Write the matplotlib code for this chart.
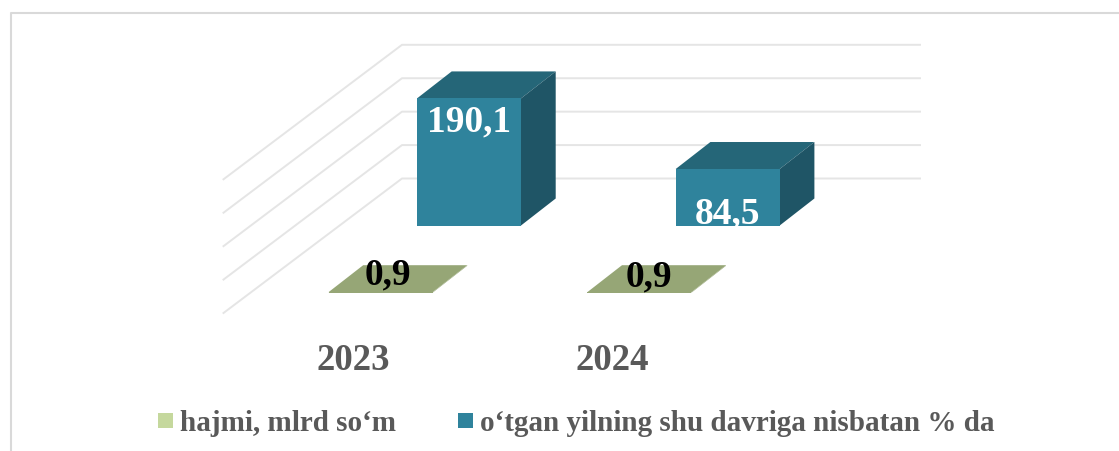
#!/usr/bin/python3

import matplotlib
matplotlib.use('Agg')
import matplotlib.pyplot as plt
from matplotlib.patches import Polygon, Rectangle

plt.rcParams['font.family'] = ['Liberation Serif', 'DejaVu Sans']
plt.rcParams['font.weight'] = 'bold'

years = ['2023', '2024']
hajmi = [0.9, 0.9]
foiz = [190.1, 84.5]
hajmi_labels = ['0,9', '0,9']
foiz_labels = ['190,1', '84,5']
grid_values = [0, 50, 100, 150, 200]
legend_names = ['hajmi, mlrd so‘m', 'o‘tgan yilning shu davriga nisbatan % da']

GRAY = '#595959'
GRID = '#e5e5e5'
BORDER = '#d9d9d9'

# one unit of value in pixels, the back wall floor line
PX_PER_UNIT = 0.6685
WALL_FLOOR = 179.0

fig = plt.figure(figsize=(11.19, 4.52), dpi=100)
ax = fig.add_axes([0, 0, 1, 1])
ax.set_xlim(0, 1119)
ax.set_ylim(451.5, -0.5)
ax.axis('off')

# chart frame, only top and left show in the crop
ax.plot([10.5, 10.5, 1119], [452, 13.5, 13.5], color=BORDER, lw=1.5, zorder=1)


def box(x0, floor, value, width, dx, dy, front, top, side):
    h = value * PX_PER_UNIT
    ax.add_patch(Polygon([(x0, floor - h), (x0 + dx, floor - h - dy),
                          (x0 + width + dx, floor - h - dy), (x0 + width, floor - h)],
                         fc=top, ec='none', zorder=4))
    ax.add_patch(Polygon([(x0 + width, floor), (x0 + width + dx, floor - dy),
                          (x0 + width + dx, floor - h - dy), (x0 + width, floor - h)],
                         fc=side, ec='none', zorder=4))
    ax.add_patch(Rectangle((x0, floor - h), width, h, fc=front, ec='none', zorder=5))


# gridlines on back wall and side wall
for v in grid_values:
    y = WALL_FLOOR - v * PX_PER_UNIT
    ax.plot([223.5, 402, 920], [y + 134.5, y, y], color=GRID, lw=1.4, zorder=2)

# label baselines
foiz_base = [131, 223]
hajmi_base = [284, 286]
hajmi_x = [388, 649]

# rear row (percent), front row (volume)
for i in range(len(years)):
    x0 = 417 + i * 258.7
    box(x0, 226, foiz[i], 104, 34.7, 27, '#2f839c', '#256678', '#1f5566')
    ax.text(x0 + 51.7, foiz_base[i], foiz_labels[i], color='white', fontsize=27,
            ha='center', va='baseline', zorder=7)

    x1 = 328.5 + i * 258.8
    box(x1, 293.3, hajmi[i], 104, 34.7, 27, '#96a676', '#96a676', '#96a676')
    ax.text(hajmi_x[i], hajmi_base[i], hajmi_labels[i], color='black', fontsize=27,
            ha='center', va='baseline', zorder=7)

    ax.text(353 + i * 259, 370, years[i], color=GRAY, fontsize=26.5, ha='center', va='baseline')

# legend
ax.add_patch(Rectangle((158, 413), 15, 15, fc='#c5d89d', ec='none'))
ax.text(180, 431, legend_names[0], color=GRAY, fontsize=21, ha='left', va='baseline')
ax.add_patch(Rectangle((458, 413), 15, 15, fc='#2f839c', ec='none'))
ax.text(480, 431, legend_names[1], color=GRAY, fontsize=21, ha='left', va='baseline')

fig.savefig('out.png', dpi=100)
plt.close(fig)
